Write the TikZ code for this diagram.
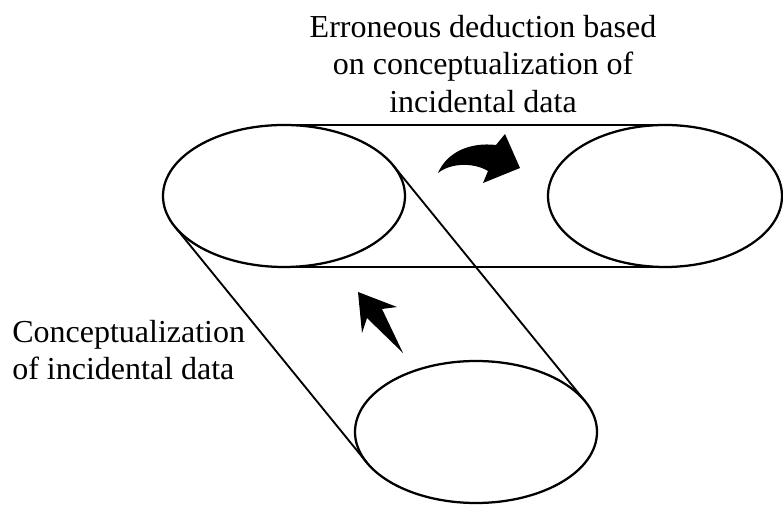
\documentclass[tikz,border=0pt]{standalone}
\usepackage{fontspec}
\setmainfont{Liberation Serif}
\usetikzlibrary{shapes.geometric,calc}
\tikzset{
  disc/.style={ellipse, draw, line width=1.7pt, inner sep=0pt,
    minimum width=181.5pt, minimum height=106.5pt},
  edge/.style={line width=1.4pt},
  flat/.style={line width=1.1pt},
  blob/.style={fill=black, draw=none},
  lbl/.style={font=\fontsize{24}{28.1}\selectfont, inner sep=0pt}
}
\begin{document}
\begin{tikzpicture}[x=0.75pt,y=-0.75pt]
\useasboundingbox (0,0) rectangle (783,505);
% discs
\node[disc] (L) at (284,196) {};
\node[disc, minimum width=175.5pt] (R) at (665,196) {};
\node[disc] (B) at (476,432) {};
% tangent points
\coordinate (Ltop) at ($(L.center)+(0,-71)$);
\coordinate (Lbot) at ($(L.center)+(0,71)$);
\coordinate (Rtop) at ($(R.center)+(0,-71)$);
\coordinate (Rbot) at ($(R.center)+(0,71)$);
\coordinate (La) at ($(L.center)+(109.2,-30.6)$);
\coordinate (Lb) at ($(L.center)+(-109.2,30.6)$);
\coordinate (Ba) at ($(B.center)+(109.2,-30.6)$);
\coordinate (Bb) at ($(B.center)+(-109.2,30.6)$);
% cylinder sides
\draw[flat] (Ltop) -- (Rtop);
\draw[flat] (Lbot) -- (Rbot);
\draw[edge] (La) -- (Ba);
\draw[edge] (Lb) -- (Bb);
% curved arrow
\fill[blob] (438,173) .. controls (447,152) and (470,142) .. (496,145)
  -- (505,134) -- (520,168) -- (483,183) -- (488,171)
  .. controls (475,163) and (452,162) .. (438,173) -- cycle;
% straight arrow
\fill[blob] (358,292) -- (397,307) -- (382,309) -- (403,353)
  -- (367,318) -- (362,333) -- cycle;
% labels
\node[lbl, anchor=north, align=center] (t1) at (483,15)
  {Erroneous deduction based\\on conceptualization of\\incidental data};
\node[lbl, anchor=north west, align=left] (t2) at (12,320)
  {Conceptualization\\of incidental data};
\end{tikzpicture}
\end{document}
